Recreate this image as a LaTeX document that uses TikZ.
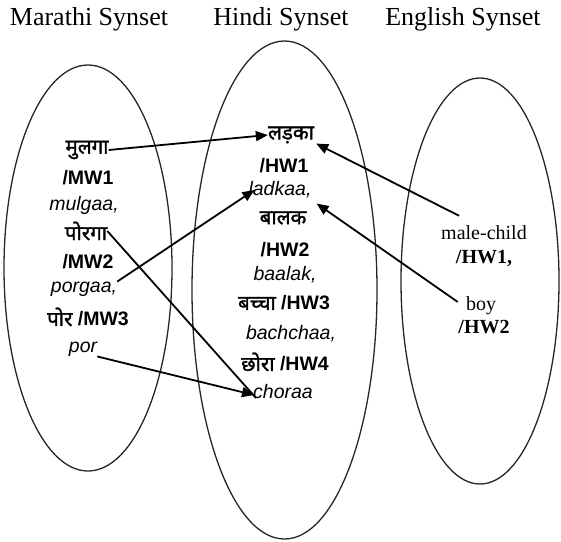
\documentclass[tikz,border=0pt]{standalone}
\usepackage{fontspec}
\setmainfont{Liberation Serif}
\newfontfamily\arialfont{Liberation Sans}
\newfontfamily\devafont[Script=Devanagari,FakeBold=1.6]{Noto Sans}
\usetikzlibrary{arrows.meta}

\newcommand{\devsize}{\devafont\fontsize{20.5}{22}\selectfont}

\tikzset{
  synset/.style={draw=black!85, line width=1.3pt},
  title/.style={font=\fontsize{26}{28}\selectfont, inner sep=0pt, anchor=base},
  deva/.style={font=\devsize, inner sep=0pt},
  code/.style={font=\arialfont\bfseries\fontsize{19.5}{22}\selectfont, inner sep=0pt},
  translit/.style={font=\arialfont\itshape\fontsize{19.5}{22}\selectfont, inner sep=0pt},
  eng/.style={font=\fontsize{20}{22}\selectfont, inner sep=0pt},
  engcode/.style={font=\bfseries\fontsize{20}{22}\selectfont, inner sep=0pt},
  link/.style={line width=1.8pt, -{Triangle[length=12pt,width=10pt]}},
  plainlink/.style={line width=1.8pt},
}

\begin{document}
\begin{tikzpicture}[x=1pt,y=-1pt]
\useasboundingbox (0,0) rectangle (561,541);

% headings
\node[title] (tm) at (89,25) {Marathi Synset};
\node[title] (th) at (281,25) {Hindi Synset};
\node[title] (te) at (463,25) {English Synset};

% the three synsets
\draw[synset] (88,268) ellipse [x radius=84, y radius=203];
\draw[synset] (284.5,290) ellipse [x radius=92.5, y radius=249];
\draw[synset] (480,281) ellipse [x radius=79, y radius=203];

% Marathi words
\node[deva]     (m1a) at (87,150) {मुलगा};
\node[code]     (m1b) at (88,178) {/MW1};
\node[translit] (m1c) at (84,205) {mulgaa,};
\node[deva]     (m2a) at (86,231) {पोरगा};
\node[code]     (m2b) at (88,262) {/MW2};
\node[translit] (m2c) at (84,289) {porgaa,};
\node[code]     (m3a) at (88,317) {{\devsize पोर} /MW3};
\node[translit] (m3b) at (83,349) {por};

% Hindi words
\node[deva]     (h1a) at (291,135) {लड़का};
\node[code]     (h1b) at (284,166) {/HW1};
\node[translit] (h1c) at (280,190) {ladkaa,};
\node[deva]     (h2a) at (283,218) {बालक};
\node[code]     (h2b) at (285,250) {/HW2};
\node[translit] (h2c) at (285,275) {baalak,};
\node[code]     (h3a) at (284,303) {{\devsize बच्चा} /HW3};
\node[translit] (h3b) at (291,334) {bachchaa,};
\node[code]     (h4a) at (285,362) {{\devsize छोरा} /HW4};
\node[translit] (h4b) at (283,392) {choraa};

% English words
\node[eng]     (e1a) at (484,233) {male-child};
\node[engcode] (e1b) at (484,258) {/HW1,};
\node[eng]     (e2a) at (481,306) {boy};
\node[engcode] (e2b) at (484,327) {/HW2};

% cross-lingual links
\draw[link] (m1a.east) -- (h1a.west);
\draw[link] (m2c.north east) -- ([xshift=6pt]h1c.west);
\draw[plainlink] (m2a.east) -- ([xshift=3pt,yshift=-6pt]h4b.west);
\draw[link] (m3b.south east) -- ([xshift=1pt,yshift=-3pt]h4b.west);
\draw[link] ([xshift=18pt,yshift=10pt]e1a.north west) -- ([xshift=2pt]h1a.south east);
\draw[link] ([xshift=-8pt,yshift=4pt]e2a.west) -- ([xshift=5pt,yshift=-5pt]h1c.south east);
\end{tikzpicture}
\end{document}
